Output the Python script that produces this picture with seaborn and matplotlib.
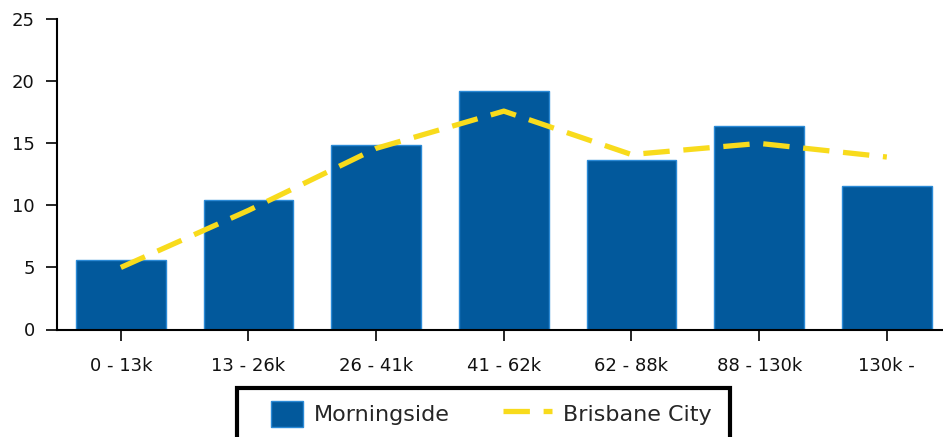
import numpy as np
import matplotlib
matplotlib.use("Agg")
import matplotlib.pyplot as plt
import matplotlib.patches as mpatches
from matplotlib.legend_handler import HandlerPatch
import seaborn as sns

# income bands and values
income_bands = ["0 - 13k", "13 - 26k", "26 - 41k", "41 - 62k", "62 - 88k", "88 - 130k", "130k -"]
morningside = [5.6, 10.4, 14.9, 19.2, 13.7, 16.4, 11.6]
brisbane_city = [5.0, 9.6, 14.6, 17.6, 14.1, 15.0, 13.9]
y_ticks = [0, 5, 10, 15, 20, 25]

bar_blue = "#02599C"
edge_blue = "#2B8AD6"
line_yellow = "#F8DB1C"

sns.set_theme(style="white")
plt.rcParams['font.family'] = ['DejaVu Sans']

fig = plt.figure(figsize=(9.43, 4.37), dpi=100)
ax = fig.add_axes([57 / 943, 107.5 / 437, 1 - 57 / 943, (329.5 - 19.3) / 437])

sns.barplot(x=income_bands, y=morningside, color=bar_blue, saturation=1,
            width=0.7, edgecolor=edge_blue, linewidth=1, ax=ax)

pos = np.arange(len(income_bands))
line, = ax.plot(pos, brisbane_city, color=line_yellow, linewidth=3.8,
                linestyle="--", dash_capstyle="butt")
line.set_dashes([5, 2.6])

ax.set_ylim(0, 25)
ax.set_yticks(y_ticks)
ax.set_xlim(-0.5, 6.44)

for side in ["top", "right"]:
    ax.spines[side].set_visible(False)
for side in ["left", "bottom"]:
    ax.spines[side].set_color("black")
    ax.spines[side].set_linewidth(1.5)

ax.tick_params(axis="both", which="both", direction="out", length=8, width=1.2,
               color="black", labelsize=13, labelcolor="#111111",
               bottom=True, left=True)
ax.tick_params(axis="y", pad=8)
ax.tick_params(axis="x", pad=12)
ax.set_xlabel("")
ax.set_ylabel("")


def square_patch(legend, orig_handle, xdescent, ydescent, width, height, fontsize):
    """legend swatch: a square on the right of a wider handle box"""
    side = 1.45 * fontsize
    return mpatches.Rectangle((-xdescent + width - side, -ydescent), side, height)


swatch = mpatches.Patch(facecolor=bar_blue, edgecolor=edge_blue, linewidth=1)
leg = fig.legend(handles=[swatch, line], labels=["Morningside", "Brisbane City"],
                 loc="center left", bbox_to_anchor=(254 / 943, 1 - 414 / 437),
                 ncol=2, fontsize=16, frameon=False,
                 handlelength=2.2, handleheight=1.4, handletextpad=0.5,
                 columnspacing=2.4, borderpad=0, borderaxespad=0,
                 handler_map={mpatches.Patch: HandlerPatch(patch_func=square_patch)})

# legend box, cut off by the bottom edge as in the reference
box = mpatches.Rectangle((237 / 943, -0.1), (730 - 237) / 943, 0.1 + 1 - 388 / 437,
                         transform=fig.transFigure, fill=False, edgecolor="black",
                         linewidth=3, clip_on=False)
fig.add_artist(box)

fig.savefig("out.png", dpi=100)
